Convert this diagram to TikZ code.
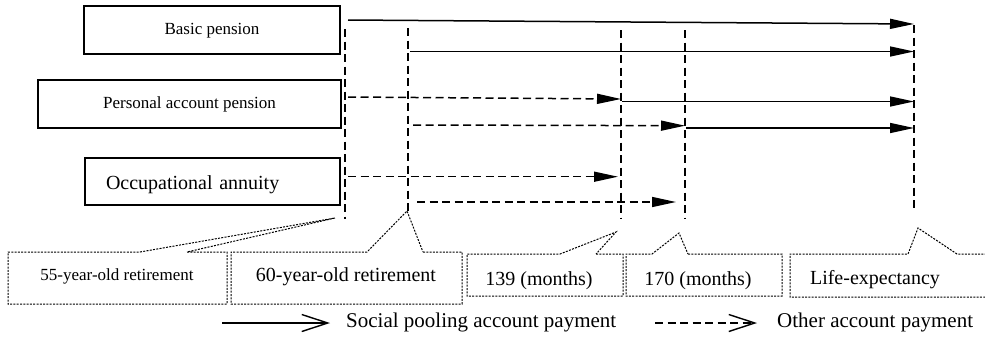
\documentclass[tikz,border=0pt]{standalone}
\usepackage{fontspec}
\setmainfont{Liberation Serif}
\usetikzlibrary{arrows.meta}
\begin{document}
\begin{tikzpicture}[x=1pt,y=-1pt,
  box/.style={draw,line width=1.4pt,inner sep=0pt},
  vline/.style={line width=1.5pt,dash pattern=on 8pt off 4.5pt},
  solidarr/.style={line width=1.5pt,-{Triangle[length=24pt,width=10pt]}},
  dasharr/.style={line width=1.5pt,dash pattern=on 8pt off 4.5pt,-{Triangle[length=24pt,width=10pt]}},
  legsolid/.style={line width=1.4pt,-{Straight Barb[length=26pt,width=17pt,line width=1.4pt]}},
  legdash/.style={line width=1.5pt,dash pattern=on 8pt off 4.5pt,-{Straight Barb[length=26pt,width=17pt,line width=1.4pt]}},
  callout/.style={line width=1pt,dash pattern=on 2pt off 1.3pt},
  smalltxt/.style={font=\fontsize{17}{20}\selectfont},
  bigtxt/.style={font=\fontsize{20}{24}\selectfont},
  legtxt/.style={font=\fontsize{21}{25}\selectfont},
]
\useasboundingbox (0,0) rectangle (985,338);

% left boxes
\node[box,smalltxt,minimum width=256pt,minimum height=48pt,text height=12pt,text depth=4pt] (basic) at (212,30) {Basic pension};
\node[box,smalltxt,minimum width=303pt,minimum height=48pt,text height=12pt,text depth=4pt] (personal) at (189.5,104) {Personal account pension};
\node[box,bigtxt,minimum height=47pt,text width=213pt,inner xsep=21pt,align=left,text height=20pt,text depth=4.4pt] (occup) at (212.5,181.5) {Occupational annuity};

% vertical dashed time lines
\coordinate (v1t) at (345,29);  \coordinate (v1b) at (345,219);
\coordinate (v2t) at (408,28);  \coordinate (v2b) at (408,211);
\coordinate (v3t) at (621,30);  \coordinate (v3b) at (621,218);
\coordinate (v4t) at (685,30);  \coordinate (v4b) at (685,218);
\coordinate (v5t) at (914,25);  \coordinate (v5b) at (914,212);
\draw[vline] (v1t) -- (v1b);
\draw[vline] (v2t) -- (v2b);
\draw[vline] (v3t) -- (v3b);
\draw[vline] (v4t) -- (v4b);
\draw[vline] (v5t) -- (v5b);

% payment arrows
\coordinate (a1s) at (348,20);   \coordinate (a1e) at (914,24);
\coordinate (a2s) at (410,51.5); \coordinate (a2e) at (914,51.5);
\coordinate (a3s) at (348,97);   \coordinate (a3m) at (621,99);
\coordinate (a3n) at (622,101.5);\coordinate (a3e) at (914,101.5);
\coordinate (a4s) at (413,125);  \coordinate (a4m) at (685,125.7);
\coordinate (a4n) at (686,128);  \coordinate (a4e) at (914,128);
\coordinate (a5s) at (348,176.7);\coordinate (a5e) at (618,176.7);
\coordinate (a6s) at (417,202);  \coordinate (a6e) at (676,202);
\draw[solidarr] (a1s) -- (a1e);
\draw[solidarr] (a2s) -- (a2e);
\draw[dasharr] (a3s) -- (a3m);
\draw[solidarr] (a3n) -- (a3e);
\draw[dasharr] (a4s) -- (a4m);
\draw[solidarr] (a4n) -- (a4e);
\draw[dasharr] (a5s) -- (a5e);
\draw[dasharr] (a6s) -- (a6e);

% callout outlines
\draw[callout] (187,252) -- (227,252) -- (227,304) -- (8,304) -- (8,252) -- (140,252) -- (335,218) -- cycle;
\draw[callout] (423,252) -- (462,252) -- (462,304) -- (231,304) -- (231,252) -- (367,252) -- (407,211) -- cycle;
\draw[callout] (596,254) -- (623,254) -- (623,296) -- (467,296) -- (467,254) -- (560,254) -- (616,232) -- cycle;
\draw[callout] (688,254) -- (782,254) -- (782,296) -- (626,296) -- (626,254) -- (652,254) -- (679,233) -- cycle;
\draw[callout] (990,254) -- (957,254) -- (918,228) -- (908,254) -- (790,254) -- (790,297) -- (990,297);

% callout texts
\node[smalltxt,anchor=base] (r55) at (117,280) {55-year-old retirement};
\node[bigtxt,anchor=base] (r60) at (346,281.5) {60-year-old retirement};
\node[bigtxt,anchor=base] (m139) at (539,285) {139 (months)};
\node[bigtxt,anchor=base] (m170) at (698,285) {170 (months)};
\node[bigtxt,anchor=base] (life) at (875,284) {Life-expectancy};

% legend
\coordinate (ls1) at (222,323); \coordinate (ls2) at (330,323);
\coordinate (ld1) at (655,323); \coordinate (ld2) at (757,323);
\draw[legsolid] (ls1) -- (ls2);
\draw[legdash] (ld1) -- (ld2);
\node[legtxt,anchor=base west,inner sep=0pt] (legs) at (346,327.5) {Social pooling account payment};
\node[legtxt,anchor=base west,inner sep=0pt] (legd) at (777,327) {Other account payment};
\end{tikzpicture}
\end{document}
